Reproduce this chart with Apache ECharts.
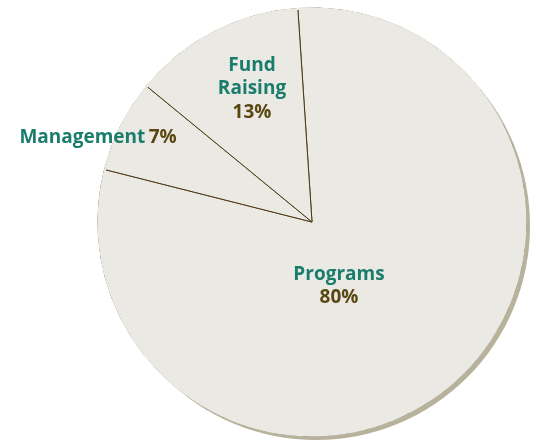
<!DOCTYPE html>
<html>
<head>
<meta charset="utf-8">
<script src="https://cdn.jsdelivr.net/npm/echarts@6/dist/echarts.min.js"></script>
<style>
  html, body { margin: 0; padding: 0; background: #fff; }
  #main { width: 536px; height: 440px; }
</style>
</head>
<body>
<div id="main"></div>
<script>
// expense split
const categories = ['Programs', 'Management', 'Fund Raising'];
const shares = [80, 7, 13];
const labelLines = [['Programs'], ['Management'], ['Fund', 'Raising']];

const labelPos = [
    { x: 339, y: 286 },
    { x: 98, y: 138 },
    { x: 252, y: 89 }
];

const center = [312, 222];
const R = 214;

const chart = echarts.init(document.getElementById('main'));

chart.setOption({
    animation: false,
    series: [
        {
            // shadow disc under the pie
            type: 'pie',
            silent: true,
            center: center,
            radius: R,
            label: { show: false },
            data: [{ value: 1, itemStyle: { color: '#ebe9e4' } }],
            itemStyle: {
                shadowColor: '#b7b29b',
                shadowBlur: 0,
                shadowOffsetX: 4,
                shadowOffsetY: 4
            }
        },
        {
            type: 'pie',
            silent: true,
            center: center,
            radius: R,
            startAngle: 93.8,
            clockwise: true,
            itemStyle: {
                color: '#ebe9e4',
                borderColor: '#4a3a12',
                borderWidth: 1
            },
            label: {
                show: true,
                position: 'inside',
                formatter: (p) => {
                    const i = p.dataIndex;
                    if (i === 1) return '{n|' + labelLines[i].join('\n') + '} {v|' + p.value + '%}';
                    return labelLines[i].map(t => '{n|' + t + '}').join('\n') + '\n{v|' + p.value + '%}';
                },
                rich: {
                    n: { fontFamily: 'Open Sans', fontWeight: 'bold', fontSize: 19, color: '#1a7d6c', lineHeight: 23.5, align: 'center' },
                    v: { fontFamily: 'Open Sans', fontWeight: 'bold', fontSize: 19, color: '#5a4711', lineHeight: 23.5, align: 'center' }
                }
            },
            labelLayout: (params) => ({
                x: labelPos[params.dataIndex].x,
                y: labelPos[params.dataIndex].y,
                align: 'center',
                verticalAlign: 'middle'
            }),
            data: categories.map((c, i) => ({ name: c, value: shares[i] }))
        },
        {
            // cover the outer arc stroke so only the radial lines show
            type: 'pie',
            silent: true,
            center: center,
            radius: [R - 1.5, R + 0.5],
            label: { show: false },
            data: [{ value: 1, itemStyle: { color: '#ebe9e4' } }]
        }
    ]
});
</script>
</body>
</html>
